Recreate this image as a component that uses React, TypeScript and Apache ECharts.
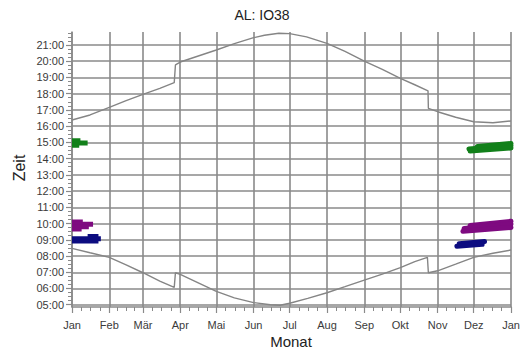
import React, { useEffect, useRef } from "react";
import * as echarts from "echarts";

const monthStarts = [0, 31, 59, 90, 120, 151, 181, 212, 243, 273, 304, 334, 365];
const monthLabels = ["Jan", "Feb", "Mär", "Apr", "Mai", "Jun", "Jul", "Aug", "Sep", "Okt", "Nov", "Dez", "Jan"];
const hourTicks = [5, 6, 7, 8, 9, 10, 11, 12, 13, 14, 15, 16, 17, 18, 19, 20, 21];

// [day of year, hour]
const sunset: number[][] = [
  [0, 16.38], [15, 16.69], [31, 17.16], [45, 17.57], [59, 17.96], [73, 18.33], [85, 18.68],
  [86, 19.77], [90, 19.95], [105, 20.32], [120, 20.69], [135, 21.08], [151, 21.45], [160, 21.6],
  [172, 21.72], [181, 21.7], [195, 21.5], [212, 21.1], [227, 20.6], [243, 20.01], [258, 19.5],
  [273, 18.95], [285, 18.55], [296, 18.18], [296.3, 17.1], [304, 16.89], [319, 16.55],
  [334, 16.27], [350, 16.21], [365, 16.32],
];
const sunrise: number[][] = [
  [0, 8.47], [15, 8.2], [31, 7.92], [45, 7.45], [59, 6.97], [73, 6.46], [85, 6.07],
  [86, 6.97], [90, 6.87], [105, 6.35], [120, 5.82], [135, 5.42], [151, 5.13], [165, 5.0],
  [173, 4.97], [181, 5.09], [196, 5.39], [212, 5.74], [227, 6.11], [243, 6.52], [258, 6.89],
  [273, 7.28], [285, 7.65], [295.5, 7.92], [296.3, 6.97], [304, 7.09], [319, 7.5],
  [334, 7.92], [350, 8.17], [365, 8.37],
];

// observation bands, each as several tracks [day, hour]
const greenJan: number[][][] = [
  [[0, 15.1], [7, 15.1]],
  [[0, 14.96], [13, 14.96]],
  [[0, 14.83], [6, 14.83]],
];
const greenDec: number[][][] = [
  [[337, 14.75], [365, 14.93]],
  [[330, 14.6], [365, 14.8]],
  [[331, 14.47], [365, 14.66]],
];
const purpleJan: number[][][] = [
  [[0, 10.1], [9, 10.1]],
  [[0, 9.95], [17.5, 9.95]],
  [[0, 9.8], [14, 9.8]],
  [[0, 9.67], [8, 9.67]],
];
const purpleDec: number[][][] = [
  [[331, 9.88], [365, 10.14]],
  [[326, 9.7], [365, 9.97]],
  [[325, 9.52], [365, 9.76]],
];
const navyJan: number[][][] = [
  [[13, 9.2], [22, 9.2]],
  [[0, 9.06], [24, 9.06]],
  [[0, 8.92], [22, 8.92]],
];
const navyDec: number[][][] = [
  [[322, 8.76], [343, 8.9]],
  [[320, 8.6], [341, 8.72]],
];

const minorX: number[] = [];
for (let i = 0; i < monthStarts.length - 1; i++) {
  const a = monthStarts[i];
  const b = monthStarts[i + 1];
  for (let k = 1; k < 4; k++) minorX.push(a + ((b - a) * k) / 4);
}
const minorY: number[] = [];
for (let h = 4; h <= 22; h++) {
  for (let k = 1; k < 4; k++) minorY.push(h + k / 4);
}

const FONT = "Liberation Sans, Arial, sans-serif";
const GRID = "#8a8a8a";

export default function App() {
  const ref = useRef<HTMLDivElement>(null);
  useEffect(() => {
    document.body.style.margin = "0";
    const chart = echarts.init(ref.current!, null, { renderer: "svg" });
    const band = (tracks: number[][][], color: string, cap: string) =>
      tracks.map((t) => ({
        type: "line",
        data: t,
        xAxisIndex: 0,
        yAxisIndex: 0,
        symbol: "none",
        silent: true,
        z: 5,
        lineStyle: { color, width: 5, cap },
      }));
    chart.setOption({
      animation: false,
      grid: { left: 72, right: 12, top: 32, bottom: 45, outerBoundsMode: "none" },
      xAxis: [
        {
          type: "value",
          min: 0,
          max: 365,
          position: "bottom",
          axisLine: { show: true, lineStyle: { color: GRID, width: 1.5 } },
          axisTick: { show: true, customValues: monthStarts, length: 6, lineStyle: { color: GRID, width: 1.2 } },
          axisLabel: {
            show: true,
            customValues: monthStarts,
            margin: 12,
            fontSize: 11,
            fontFamily: FONT,
            color: "#3a3a3a",
            formatter: (v: number) => monthLabels[monthStarts.indexOf(Math.round(v))] ?? "",
          },
          splitLine: { show: true, lineStyle: { color: GRID, width: 1.6 } },
        },
        {
          type: "value",
          min: 0,
          max: 365,
          position: "bottom",
          axisLine: { show: false },
          axisTick: { show: true, customValues: minorX, length: 4, lineStyle: { color: GRID, width: 1 } },
          axisLabel: { show: false },
          splitLine: { show: false },
        },
      ],
      yAxis: [
        {
          type: "value",
          min: 4.86,
          max: 21.8,
          position: "left",
          axisLine: { show: true, lineStyle: { color: GRID, width: 1.5 } },
          axisTick: { show: true, customValues: hourTicks, length: 6, lineStyle: { color: GRID, width: 1.2 } },
          axisLabel: {
            show: true,
            customValues: hourTicks,
            margin: 8,
            fontSize: 11,
            fontFamily: FONT,
            color: "#3a3a3a",
            formatter: (v: number) => String(Math.round(v)).padStart(2, "0") + ":00",
          },
          splitLine: { show: true, lineStyle: { color: GRID, width: 1.6 } },
        },
        {
          type: "value",
          min: 4.86,
          max: 21.8,
          position: "left",
          axisLine: { show: false },
          axisTick: { show: true, customValues: minorY, length: 4, lineStyle: { color: GRID, width: 1 } },
          axisLabel: { show: false },
          splitLine: { show: false },
        },
      ],
      series: [
        {
          type: "line",
          data: sunset,
          symbol: "none",
          silent: true,
          z: 4,
          lineStyle: { color: "#858585", width: 1.4 },
        },
        {
          type: "line",
          data: sunrise,
          symbol: "none",
          silent: true,
          z: 4,
          lineStyle: { color: "#858585", width: 1.4 },
        },
        ...band(greenJan, "#12801a", "butt"),
        ...band(greenDec, "#12801a", "round"),
        ...band(purpleJan, "#7e0a80", "butt"),
        ...band(purpleDec, "#7e0a80", "round"),
        ...band(navyJan, "#0c0c80", "butt"),
        ...band(navyDec, "#0c0c80", "round"),
      ],
      graphic: [
        {
          type: "text",
          x: 262,
          y: 15,
          style: { text: "AL: IO38", fontSize: 14, fontFamily: FONT, fill: "#222", align: "center", verticalAlign: "middle" },
        },
        {
          type: "text",
          x: 19,
          y: 168,
          rotation: Math.PI / 2,
          style: { text: "Zeit", fontSize: 16, fontFamily: FONT, fill: "#222", align: "center", verticalAlign: "middle" },
        },
        {
          type: "text",
          x: 291,
          y: 341,
          style: { text: "Monat", fontSize: 15, fontFamily: FONT, fill: "#222", align: "center", verticalAlign: "middle" },
        },
      ],
    });
    return () => chart.dispose();
  }, []);
  return <div ref={ref} style={{ width: 523, height: 352 }} />;
}
